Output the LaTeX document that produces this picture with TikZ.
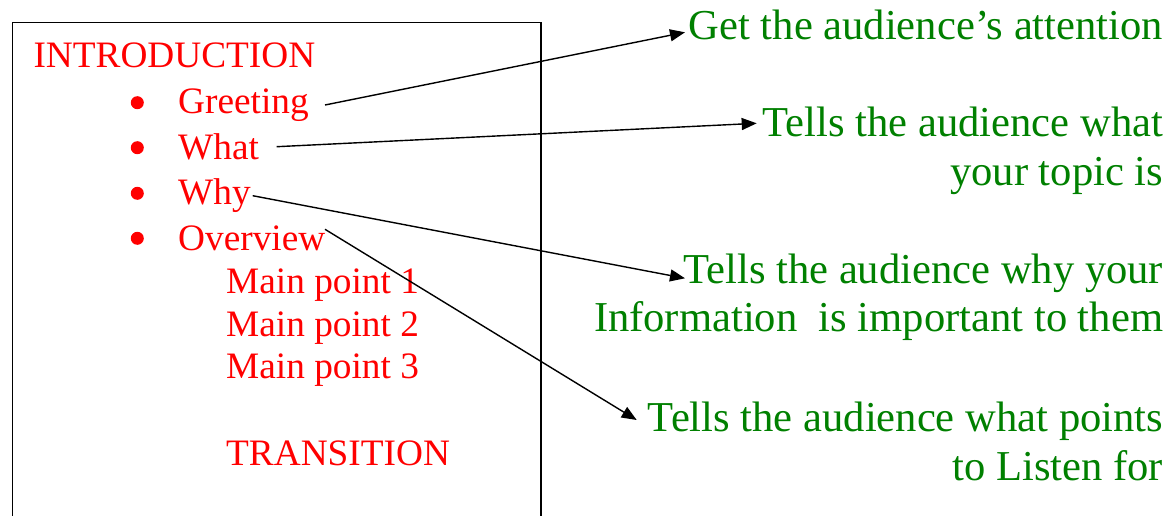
\documentclass[tikz,border=0pt]{standalone}
\usepackage{fontspec}
\setmainfont{Liberation Serif}
\usetikzlibrary{arrows.meta}
\definecolor{txtred}{RGB}{255,0,0}
\definecolor{txtgreen}{RGB}{0,128,0}
\tikzset{
  redtxt/.style={inner sep=0pt, anchor=base west, text=txtred, font=\fontsize{37.3}{45}\selectfont},
  greentxt/.style={inner sep=0pt, anchor=base east, text=txtgreen, font=\fontsize{42.6}{48}\selectfont},
  bul/.style={circle, fill=txtred, inner sep=0pt, minimum size=13pt},
  frame/.style={draw=black, line width=1.5pt},
  conn/.style={draw=black, line width=1.4pt, -{Triangle[length=15pt,width=12pt]}}
}
\begin{document}
\begin{tikzpicture}[x=1pt,y=-1pt]
\useasboundingbox (0,0) rectangle (1175,516);
\clip (0,0) rectangle (1175,516);
% frame
\draw[frame] (12.7,525) -- (12.7,22.3) -- (541,22.3) -- (541,525);
% left texts
\node[redtxt] (intro) at (33.3,67.7) {INTRODUCTION};
\node[bul] (b1) at (137.3,102.7) {};
\node[bul] (b2) at (137.3,147.7) {};
\node[bul] (b3) at (137.3,193.3) {};
\node[bul] (b4) at (137.3,238.3) {};
\node[redtxt] (greet) at (178,113.3) {Greeting};
\node[redtxt] (what) at (178,159.3) {What};
\node[redtxt] (why) at (178,204) {Why};
\node[redtxt] (over) at (178,250) {Overview};
\node[redtxt] (mp1) at (226,293.3) {Main point 1};
\node[redtxt] (mp2) at (226,336) {Main point 2};
\node[redtxt] (mp3) at (226,378.3) {Main point 3};
\node[redtxt] (trans) at (226,465) {TRANSITION};
% right texts
\node[greentxt] (gA) at (1163.3,39.3) {Get the audience’s attention};
\node[greentxt] (gB1) at (1163.3,136.7) {Tells the audience what};
\node[greentxt] (gB2) at (1163.3,185) {your topic is};
\node[greentxt] (gC1) at (1163.3,283.3) {Tells the audience why your};
\node[greentxt] (gC2) at (1163.3,331.7) {Information\ \ is important to them};
\node[greentxt] (gD1) at (1163.3,431.7) {Tells the audience what points};
\node[greentxt] (gD2) at (1163.3,480) {to Listen for};
% connector ends
\coordinate (sA) at (325,105);
\coordinate (sB) at (276.7,146.7);
\coordinate (sC) at (252.7,195.7);
\coordinate (sD) at (325,229.3);
\coordinate (tA) at (685,32.3);
\coordinate (tB) at (756.7,123.3);
\coordinate (tC) at (685,278.3);
\coordinate (tD) at (636.7,420);
\draw[conn] (sA) -- (tA);
\draw[conn] (sB) -- (tB);
\draw[conn] (sC) -- (tC);
\draw[conn] (sD) -- (tD);
\end{tikzpicture}
\end{document}
